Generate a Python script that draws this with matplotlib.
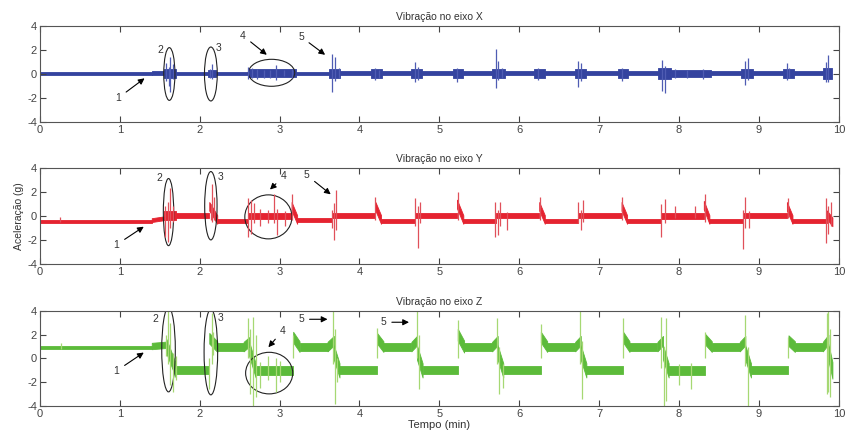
import matplotlib
matplotlib.use("Agg")
import matplotlib.pyplot as plt
from matplotlib.patches import Ellipse

plt.rcParams['font.family'] = ['Liberation Sans', 'DejaVu Sans']
plt.rcParams['axes.unicode_minus'] = False

# ---- eixo X: faixa do sinal (bordas, nivel inicial/final, meia-largura) e picos (t, max, min)
x_edges = [0, 1.4, 1.55, 1.7, 2.1, 2.2, 2.6, 3.2, 3.62, 3.76, 4.15, 4.28, 4.65, 4.78,
           5.17, 5.3, 5.66, 5.82, 6.19, 6.32, 6.7, 6.83, 7.24, 7.36, 7.74, 7.9, 8.4,
           8.78, 8.92, 9.3, 9.44, 9.8, 9.92]
x_start = [0.05] * 32
x_end = [0.05] * 32
x_amp = [0.13, 0.17, 0.4, 0.15, 0.3, 0.15, 0.33, 0.15, 0.4, 0.16, 0.4, 0.16, 0.4, 0.16,
         0.4, 0.16, 0.4, 0.16, 0.4, 0.16, 0.4, 0.16, 0.4, 0.16, 0.45, 0.28, 0.16,
         0.4, 0.16, 0.38, 0.16, 0.45]
x_spk_t = [1.58, 1.61, 1.63, 1.66, 2.13, 2.15, 2.6, 2.65, 2.72, 2.8, 2.88, 2.95, 3.05, 3.15,
           3.66, 3.7, 3.74, 4.2, 4.24, 4.7, 4.73, 5.22, 5.71, 5.74, 5.78, 6.24, 6.74, 6.77,
           7.28, 7.79, 7.83, 7.95, 8.1, 8.3, 8.82, 8.86, 9.35, 9.38, 9.84, 9.87]
x_spk_hi = [0.9, 0.6, 1.4, 0.8, 0.4, 0.8, 0.6, 0.5, 0.4, 0.3, 0.35, 0.75, 0.3, 0.4,
            1.7, 1.4, 0.5, 0.5, 0.3, 1.0, 0.6, 0.5, 2.1, 1.1, 0.5, 0.5, 1.1, 0.9,
            0.5, 1.2, 0.7, 0.4, 0.3, 0.4, 1.1, 1.3, 0.9, 0.5, 1.0, 1.6]
x_spk_lo = [-0.6, -1.0, -1.5, -0.4, -0.3, -0.4, -0.4, -0.3, -0.4, -0.3, -0.3, -0.5, -0.2, -0.3,
            -1.5, -0.6, -0.3, -0.5, -0.3, -0.7, -0.5, -0.7, -1.2, -0.5, -0.3, -0.5, -1.1, -0.6,
            -0.6, -1.4, -1.6, -0.3, -0.3, -0.4, -0.9, -0.5, -0.5, -0.3, -0.7, -0.7]

# ---- eixo Y
y_edges = [0, 1.4, 1.55, 1.7, 2.12, 2.22, 2.6, 3.15, 3.22, 3.65, 4.2, 4.27, 4.7, 5.22, 5.3,
           5.71, 6.25, 6.32, 6.74, 7.28, 7.35, 7.78, 8.31, 8.38, 8.8, 9.35, 9.42, 9.85, 9.92]
y_start = [-0.45, -0.35, 0, 0, 0.8, -0.4, 0, 0.8, -0.35, 0, 0.8, -0.4, 0, 1.0,
           -0.4, 0, 0.8, -0.4, 0, 0.8, -0.4, 0, 0.9, -0.4, 0, 0.8, -0.4, 0.1]
y_end = [-0.45, -0.2, 0, 0, -0.3, -0.4, 0, -0.3, -0.35, 0, -0.3, -0.4, 0, -0.3,
         -0.4, 0, -0.3, -0.4, 0, -0.3, -0.4, 0, -0.3, -0.4, 0, -0.3, -0.4, -0.5]
y_amp = [0.12, 0.16, 0.38, 0.21, 0.36, 0.16, 0.27, 0.36, 0.16, 0.21, 0.36, 0.16, 0.21, 0.36,
         0.16, 0.21, 0.36, 0.16, 0.21, 0.36, 0.16, 0.25, 0.36, 0.16, 0.21, 0.36, 0.16, 0.36]
y_spk_t = [0.25, 1.57, 1.6, 1.63, 1.66, 2.14, 2.16, 2.18, 2.6, 2.64, 2.68, 2.75, 2.85, 2.93,
           2.97, 3.07, 3.15, 3.65, 3.68, 3.71, 4.2, 4.7, 4.73, 4.76, 5.23, 5.7, 5.73, 5.76,
           5.85, 6.26, 6.74, 6.77, 6.8, 7.29, 7.78, 7.82, 7.95, 8.2, 8.32, 8.8, 8.83, 8.87,
           9.36, 9.84, 9.87, 9.9]
y_spk_hi = [-0.05, 0.8, 1.2, 2.3, 0.8, 1.0, 2.7, 1.6, 1.5, 1.3, 1.1, 0.6, 0.5, 1.8,
            0.6, 0.4, 1.8, 0.5, 1.1, 2.2, 1.6, 1.5, 0.8, 1.2, 2.0, 1.2, 0.5, 1.2,
            0.3, 1.6, 1.2, 0.5, 1.3, 1.6, 1.0, 1.4, 0.8, 0.8, 1.8, 0.5, 1.6, 0.4,
            1.5, 1.5, 0.8, 1.2]
y_spk_lo = [-0.5, -1.8, -2.2, -1.0, -0.5, -0.3, -0.5, -0.3, -1.8, -1.5, -0.6, -0.8, -0.6, -0.6,
            -1.6, -0.8, -0.3, -1.0, -2.0, -1.2, -0.3, -0.8, -2.7, -0.6, -0.3, -1.8, -1.6, -0.8,
            -1.2, -0.3, -0.6, -1.2, -0.5, -0.3, -1.8, -0.6, -0.2, -0.2, -0.5, -2.8, -1.0, -1.0,
            -0.2, -2.3, -1.5, -0.8]

# ---- eixo Z
z_edges = [0, 1.4, 1.58, 1.7, 2.12, 2.22, 2.55, 2.62, 2.7, 3.17, 3.25, 3.6, 3.68, 3.75,
           4.22, 4.3, 4.65, 4.72, 4.79, 5.23, 5.31, 5.66, 5.73, 5.8, 6.27, 6.35, 6.7, 6.77,
           6.84, 7.3, 7.38, 7.73, 7.8, 7.87, 8.33, 8.41, 8.76, 8.83, 8.9, 9.37, 9.45, 9.8,
           9.87, 9.92]
z_start = [0.95, 1.05, 1.1, -1.0, 1.7, 0.95, 1.0, 0.8, -1.0, 1.8, 0.95, 1.0, 0.5, -1.0,
           1.7, 0.95, 1.0, 0.5, -1.0,
           2.0, 0.95, 1.0, 0.5, -1.0,
           1.8, 0.95, 1.0, 0.5, -1.0,
           1.8, 0.95, 1.0, 0.5, -1.0,
           1.6, 0.95, 1.0, 0.5, -1.0,
           1.5, 0.95, 1.0, 0.5]
z_end = [0.95, 1.15, -1.0, -1.0, 1.0, 0.95, 1.4, -1.0, -1.0, 1.0, 0.95, 1.5, -1.0, -1.0,
         1.0, 0.95, 1.5, -1.0, -1.0,
         1.0, 0.95, 1.5, -1.0, -1.0,
         1.0, 0.95, 1.5, -1.0, -1.0,
         1.0, 0.95, 1.5, -1.0, -1.0,
         1.0, 0.95, 1.5, -1.0, -1.0,
         1.0, 0.95, 1.6, -1.0]
z_amp = [0.13, 0.27, 0.6, 0.33, 0.45, 0.33, 0.4, 0.6, 0.4, 0.45, 0.33, 0.4, 0.6, 0.33,
         0.45, 0.33, 0.4, 0.6, 0.33,
         0.5, 0.33, 0.4, 0.6, 0.33,
         0.45, 0.33, 0.4, 0.6, 0.33,
         0.45, 0.33, 0.4, 0.6, 0.4,
         0.45, 0.33, 0.4, 0.6, 0.33,
         0.45, 0.33, 0.4, 0.7]
z_spk_t = [0.27, 1.58, 1.6, 1.63, 1.66, 1.7, 2.12, 2.15, 2.17, 2.6, 2.63, 2.67, 2.7, 2.75,
           2.85, 2.95, 3.0, 3.17, 3.67, 3.7, 3.72, 4.22, 4.72, 4.74, 5.23, 5.72, 5.75, 5.8,
           6.27, 6.76, 6.78, 7.3, 7.78, 7.81, 7.84, 8.0, 8.15, 8.33, 8.82, 8.86, 9.37,
           9.85, 9.87, 9.89]
z_spk_hi = [1.3, 2.0, 4.0, 3.0, 0.5, 0.2, 0.0, 3.8, 2.2, 3.4, 2.5, 3.5, 2.0, -0.3,
            0.2, 0.0, -0.2, 2.0, 4.0, 2.5, 0.0, 2.6, 4.0, 2.0, 3.2, 3.4, 1.0, -0.5,
            2.9, 4.0, 1.5, 3.4, 3.5, 1.0, 3.4, -0.5, -0.4, 2.2, 3.7, 1.0, 1.8,
            3.8, 4.0, 2.5]
z_spk_lo = [0.8, 0.2, -0.5, -2.2, -2.8, -1.8, -2.6, -0.5, 0.3, 0.0, -3.0, -4.0, -3.2, -2.5,
            -1.8, -2.8, -2.0, 0.0, -0.5, -3.8, -2.0, 0.0, 0.0, -2.6, 0.0, -0.5, -3.0, -2.5,
            0.0, -0.5, -3.4, 0.0, -0.8, -4.0, -3.6, -2.2, -2.6, 0.0, -0.6, -4.0, 0.0,
            -3.0, -2.8, -3.2]

titles = ['Vibração no eixo X', 'Vibração no eixo Y', 'Vibração no eixo Z']

fig = plt.figure(figsize=(8.49, 4.34), dpi=100)
boxes = [[0.047, 0.719, 0.941, 0.221],
         [0.047, 0.392, 0.941, 0.221],
         [0.047, 0.0645, 0.941, 0.219]]
axs = [fig.add_axes(b) for b in boxes]

channels = [
    (x_edges, x_start, x_end, x_amp, x_spk_t, x_spk_hi, x_spk_lo, '#34439f', '#4f5cb3'),
    (y_edges, y_start, y_end, y_amp, y_spk_t, y_spk_hi, y_spk_lo, '#e52330', '#e0505a'),
    (z_edges, z_start, z_end, z_amp, z_spk_t, z_spk_hi, z_spk_lo, '#5cbb3a', '#a6d873'),
]

for ax, ch, ttl in zip(axs, channels, titles):
    edges, lv0, lv1, amp, st, shi, slo, col, scol = ch
    for i in range(len(amp)):
        ax.fill_between([edges[i], edges[i + 1]],
                        [lv0[i] - amp[i], lv1[i] - amp[i]],
                        [lv0[i] + amp[i], lv1[i] + amp[i]],
                        color=col, lw=0.6, edgecolor=col)
    ax.vlines(st, slo, shi, color=scol, lw=0.9)
    ax.set_xlim(0, 10)
    ax.set_ylim(-4, 4)
    ax.set_xticks(range(11))
    ax.set_yticks([-4, -2, 0, 2, 4])
    ax.tick_params(direction='in', top=True, right=True, length=4, width=0.8,
                   labelsize=8, colors='#444444', pad=2)
    for s in ax.spines.values():
        s.set_color('#555555')
        s.set_linewidth(0.8)
    ax.set_title(ttl, fontsize=7.5, color='#333333', pad=4)

axs[1].set_ylabel('Aceleração (g)', fontsize=7.5, color='#333333', labelpad=2)
axs[2].set_xlabel('Tempo (min)', fontsize=8, color='#333333', labelpad=1)

# ---- marcacoes (elipses, numeros e setas)
ell = [
    [(1.62, 0.0, 0.14, 4.4), (2.14, 0.0, 0.16, 4.5), (2.9, 0.1, 0.58, 2.25)],
    [(1.61, 0.32, 0.13, 5.6), (2.14, 0.85, 0.155, 5.7), (2.86, -0.08, 0.59, 3.67)],
    [(1.61, 0.74, 0.17, 7.1), (2.14, 0.54, 0.17, 7.2), (2.87, -1.23, 0.59, 3.5)],
]
for ax, es in zip(axs, ell):
    for cx, cy, w, h in es:
        ax.add_patch(Ellipse((cx, cy), w, h, fill=False, ec='#222222', lw=0.8))

tk = dict(fontsize=7.5, color='#333333', ha='center', va='center')
ap = dict(arrowstyle='-|>', color='black', lw=0.8, mutation_scale=9, shrinkA=2, shrinkB=0)

a = axs[0]
a.annotate('1', xy=(1.31, -0.36), xytext=(0.98, -2.0), arrowprops=ap, **tk)
a.text(1.51, 2.0, '2', **tk)
a.text(2.23, 2.2, '3', **tk)
a.annotate('4', xy=(2.84, 1.6), xytext=(2.54, 3.2), arrowprops=ap, **tk)
a.annotate('5', xy=(3.57, 1.6), xytext=(3.27, 3.1), arrowprops=ap, **tk)

a = axs[1]
a.annotate('1', xy=(1.3, -0.9), xytext=(0.96, -2.4), arrowprops=ap, **tk)
a.text(1.5, 3.2, '2', **tk)
a.text(2.26, 3.25, '3', **tk)
a.annotate('4', xy=(2.88, 2.2), xytext=(3.05, 3.3), arrowprops=ap, **tk)
a.annotate('5', xy=(3.64, 1.8), xytext=(3.34, 3.4), arrowprops=ap, **tk)

a = axs[2]
a.annotate('1', xy=(1.3, 0.5), xytext=(0.96, -1.04), arrowprops=ap, **tk)
a.text(1.45, 3.3, '2', **tk)
a.text(2.26, 3.4, '3', **tk)
a.annotate('4', xy=(2.86, 0.95), xytext=(3.04, 2.35), arrowprops=ap, **tk)
a.annotate('5', xy=(3.6, 3.3), xytext=(3.27, 3.3), arrowprops=ap, **tk)
a.annotate('5', xy=(4.62, 3.05), xytext=(4.3, 3.05), arrowprops=ap, **tk)

fig.savefig('out.png', dpi=100)
